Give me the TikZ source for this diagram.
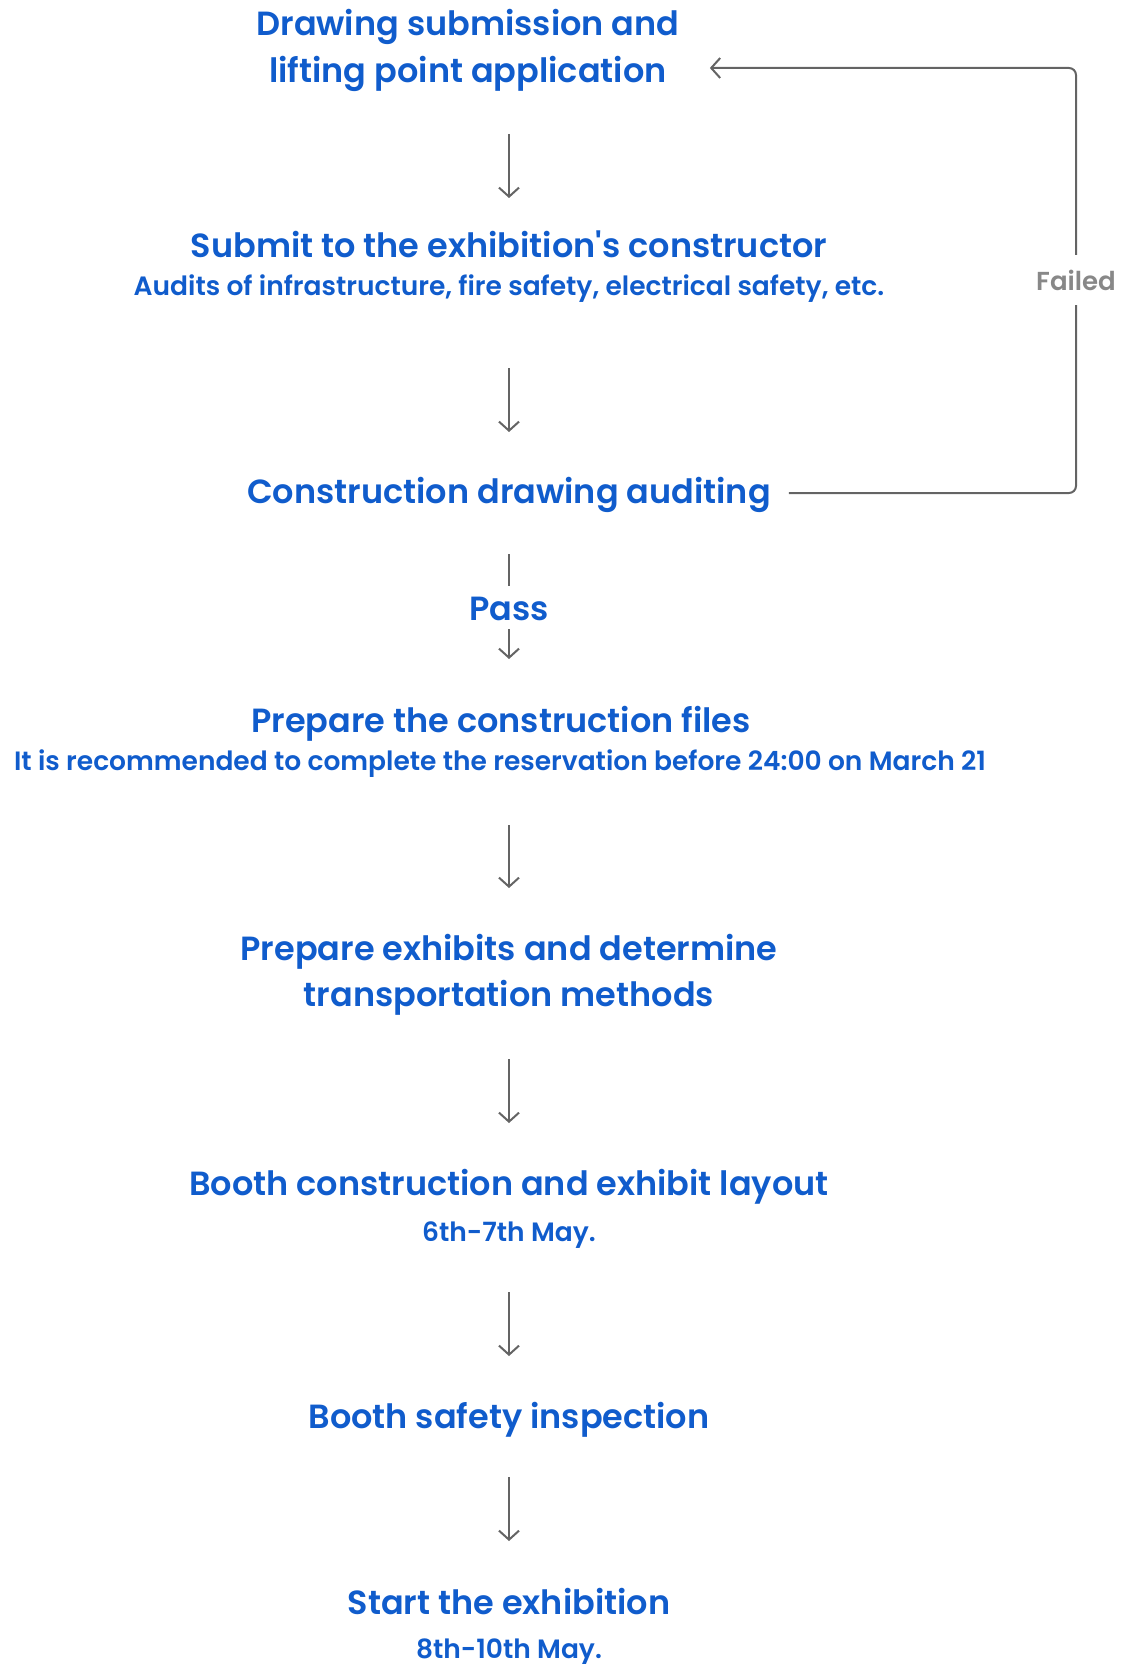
\documentclass[tikz,border=0pt]{standalone}
\usepackage{fontspec}
\setmainfont{Poppins}[UprightFont=* SemiBold]
\usetikzlibrary{arrows.meta,calc}
\definecolor{fblue}{RGB}{16,92,204}
\definecolor{fgray}{RGB}{100,100,100}
\definecolor{lgray}{RGB}{136,136,136}
\begin{document}
\begin{tikzpicture}[x=1pt,y=-1pt,
  ttl/.style={text=fblue, font=\fontsize{33.5}{40}\selectfont, inner sep=0pt, anchor=base},
  subt/.style={text=fblue, font=\fontsize{26.5}{31}\selectfont, inner sep=0pt, anchor=base},
  lbl/.style={text=lgray, font=\fontsize{26}{30}\selectfont, inner sep=0pt, minimum height=50pt},
  arr/.style={draw=fgray, line width=2pt, -{Straight Barb[length=9pt,width=20pt]}},
  ln/.style={draw=fgray, line width=2pt},
]
\useasboundingbox (0,0) rectangle (1128,1664);
\node[ttl] (t1a) at (468,36) {Drawing submission and};
\node[ttl] (t1b) at (468,83) {lifting point application};
\node[ttl] (t2) at (509,257) {Submit to the exhibition\textquotesingle s constructor};
\node[subt] (t2s) at (509,295) {Audits of infrastructure, fire safety, electrical safety, etc.};
\node[ttl] (t3) at (509,503) {Construction drawing auditing};
\node[ttl] (pass) at (509,620) {Pass};
\node[ttl] (t4) at (501,732) {Prepare the construction files};
\node[subt] (t4s) at (500,770) {It is recommended to complete the reservation before 24:00 on March 21};
\node[ttl] (t5a) at (509,960) {Prepare exhibits and determine};
\node[ttl] (t5b) at (509,1006) {transportation methods};
\node[ttl] (t6) at (509,1195) {Booth construction and exhibit layout};
\node[subt] (t6s) at (509,1241) {6th-7th May.};
\node[ttl] (t7) at (509,1428) {Booth safety inspection};
\node[ttl] (t8) at (509,1614) {Start the exhibition};
\node[subt] (t8s) at (509,1658) {8th-10th May.};
\node[lbl] (fail) at (1076,280) {Failed};

\draw[arr] ($(t1b.base -| t2.base)+(0,51)$) -- ($(t2.base)+(0,-59)$);
\draw[arr] ($(t2s.base)+(0,73)$) -- ($(t3.base)+(0,-71)$);
\draw[ln] ($(t3.base)+(0,51)$) -- ($(pass.base)+(0,-34)$);
\draw[arr] ($(pass.base)+(0,9)$) -- ($(t4.base -| pass.base)+(0,-73)$);
\draw[arr] ($(t4s.base -| t5a.base)+(0,55)$) -- ($(t5a.base)+(0,-72)$);
\draw[arr] ($(t5b.base)+(0,53)$) -- ($(t6.base)+(0,-72)$);
\draw[arr] ($(t6s.base)+(0,51)$) -- ($(t7.base)+(0,-72)$);
\draw[arr] ($(t7.base)+(0,49)$) -- ($(t8.base)+(0,-73)$);

\coordinate (fs) at ($(t3.base east)+(18,-10)$);
\coordinate (ft) at ($(t1b.base east)+(43,-15)$);
\draw[ln, rounded corners=7pt] (fs) -| (fail.south);
\draw[arr, rounded corners=7pt] (fail.north) |- (ft);
\end{tikzpicture}
\end{document}
